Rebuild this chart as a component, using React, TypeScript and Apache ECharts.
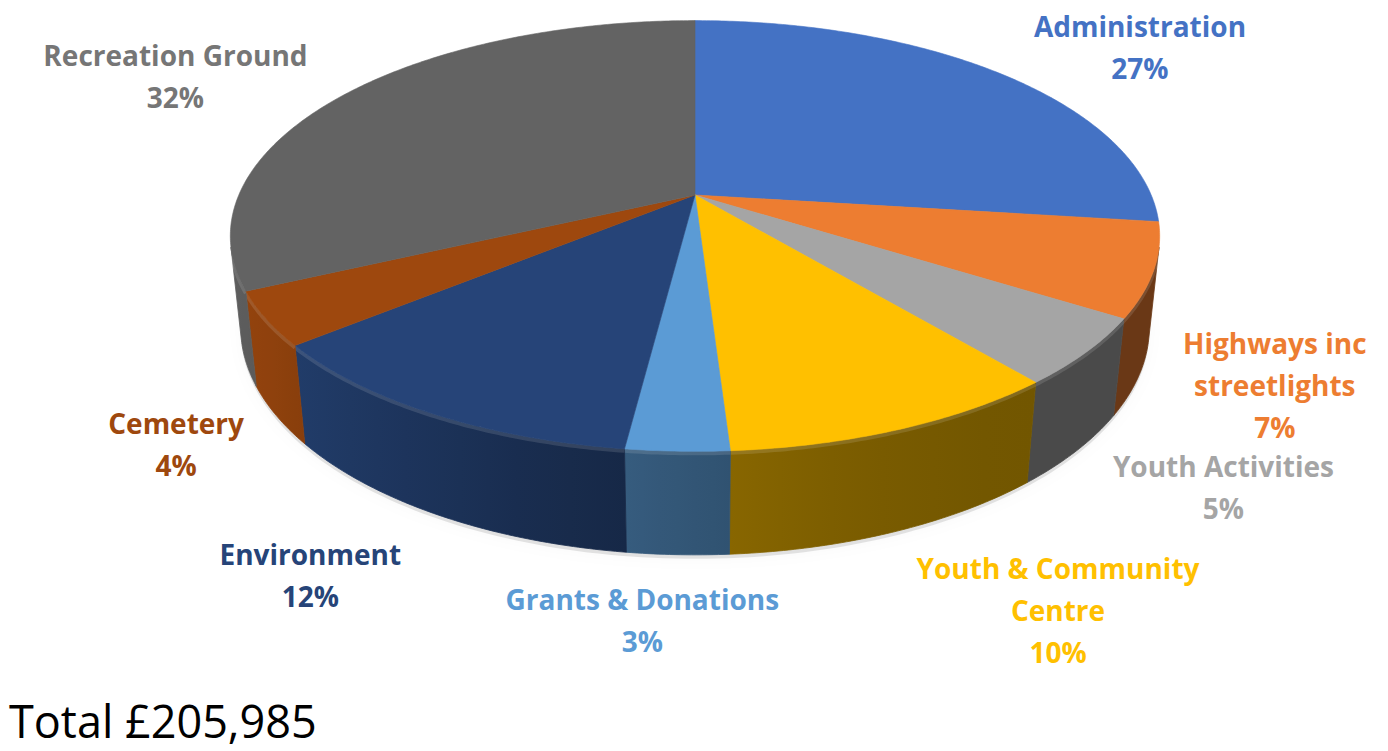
import React, { useEffect, useRef } from 'react';
import * as echarts from 'echarts';

// ---- data ----
const categories = [
  'Administration',
  'Highways inc streetlights',
  'Youth Activities',
  'Youth & Community Centre',
  'Grants & Donations',
  'Environment',
  'Cemetery',
  'Recreation Ground',
];
const labelLines = [
  ['Administration'],
  ['Highways inc', 'streetlights'],
  ['Youth Activities'],
  ['Youth & Community', 'Centre'],
  ['Grants & Donations'],
  ['Environment'],
  ['Cemetery'],
  ['Recreation Ground'],
];
const values = [27, 7, 5, 10, 3, 12, 4, 32];
const totalText = 'Total £205,985';

// ---- style / layout ----
const colors = ['#4472C4', '#ED7D31', '#A5A5A5', '#FFC000', '#5B9BD5', '#264478', '#9E480E', '#636363'];
const labelColors = ['#4472C4', '#ED7D31', '#A5A5A5', '#FFC000', '#5B9BD5', '#264478', '#9E480E', '#767676'];
const labelOffsets = [
  [141, -26], [121, 115], [137, 135], [159, 181], [-35, 169], [-121, 162], [-90, 125], [-170, -18],
];
const CX = 695, CY = 195, F = 2135, DIST = 4.68, S = 0.455, C = 0.89, H = 0.226;

function proj(X: number, Y: number, Z: number): number[] {
  const xc = X;
  const yc = Y * S + Z * C;
  const depth = DIST + Y * C - Z * S;
  return [CX + (F * xc) / depth, CY - (F * yc) / depth];
}
function rim(t: number, Z: number) {
  return proj(Math.sin(t), Math.cos(t), Z);
}
const total = values.reduce((a, b) => a + b, 0);
function angles(i: number) {
  let cum = 0;
  for (let k = 0; k < i; k++) cum += values[k];
  return [(cum / total) * Math.PI * 2, ((cum + values[i]) / total) * Math.PI * 2];
}
function shade(hex: string, b: number) {
  const n = parseInt(hex.slice(1), 16);
  const r = Math.round(((n >> 16) & 255) * b);
  const g = Math.round(((n >> 8) & 255) * b);
  const bl = Math.round((n & 255) * b);
  return `rgb(${r},${g},${bl})`;
}
function light(x: number) {
  const u = (x - CX) / 465;
  return 0.55 - 0.25 * u + 0.15 * u * u;
}

export default function App() {
  const ref = useRef<HTMLDivElement>(null);
  useEffect(() => {
    document.body.style.margin = '0';
    const chart = echarts.init(ref.current!, null, { renderer: 'svg' });
    const vmin = Math.acos(-1 / (DIST * C));
    const vmax = Math.PI * 2 - vmin;

    const renderWall = (params: any) => {
      const i = params.dataIndex;
      const children: any[] = [];
      if (i === 0) {
        const sp: number[][] = [];
        for (let t = 0; t <= Math.PI * 2 + 0.001; t += 0.02) {
          const p = rim(t, -H);
          sp.push([p[0], p[1] + 4]);
        }
        children.push({
          type: 'polygon',
          shape: { points: sp },
          style: { fill: 'rgba(0,0,0,0.10)', shadowBlur: 14, shadowColor: 'rgba(0,0,0,0.25)' },
        });
      }
      const [a0, a1] = angles(i);
      const s0 = Math.max(a0, vmin), s1 = Math.min(a1, vmax);
      if (s1 > s0) {
        const n = Math.max(2, Math.ceil((s1 - s0) / 0.01));
        const top: number[][] = [], bot: number[][] = [];
        for (let k = 0; k <= n; k++) {
          const t = s0 + ((s1 - s0) * k) / n;
          top.push(rim(t, 0));
          bot.push(rim(t, -H));
        }
        const pts = top.concat(bot.reverse());
        const xs = pts.map((p) => p[0]);
        const xmin = Math.min(...xs), xmax = Math.max(...xs);
        const stops: any[] = [];
        for (let k = 0; k <= 6; k++) {
          const x = xmin + ((xmax - xmin) * k) / 6;
          stops.push({ offset: k / 6, color: shade(colors[i], light(x)) });
        }
        const grad = new echarts.graphic.LinearGradient(0, 0, 1, 0, stops);
        children.push({
          type: 'polygon',
          shape: { points: pts },
          style: { fill: grad, stroke: grad, lineWidth: 0.8 },
        });
        children.push({
          type: 'polyline',
          shape: { points: top.map((p) => [p[0], p[1] + 2]) },
          style: { stroke: 'rgba(255,255,255,0.12)', lineWidth: 4, fill: null },
        });
      }
      return { type: 'group', children };
    };

    const renderTop = (params: any) => {
      const i = params.dataIndex;
      const [a0, a1] = angles(i);
      const n = Math.max(2, Math.ceil((a1 - a0) / 0.01));
      const pts: number[][] = [proj(0, 0, 0)];
      for (let k = 0; k <= n; k++) pts.push(rim(a0 + ((a1 - a0) * k) / n, 0));
      const mid = (a0 + a1) / 2;
      const anchor = rim(mid, 0);
      const pct = Math.round((values[i] / total) * 100) + '%';
      return {
        type: 'group',
        children: [
          {
            type: 'polygon',
            shape: { points: pts },
            style: { fill: colors[i], stroke: colors[i], lineWidth: 0.6 },
          },
          {
            type: 'text',
            x: anchor[0] + labelOffsets[i][0],
            y: anchor[1] + labelOffsets[i][1],
            style: {
              text: labelLines[i].concat([pct]).join('\n'),
              fill: labelColors[i],
              fontFamily: 'Open Sans',
              fontWeight: 'bold',
              fontSize: 28,
              lineHeight: 42,
              align: 'center',
              verticalAlign: 'middle',
            },
          },
        ],
      };
    };

    const data = values.map((v, i) => ({ name: categories[i], value: v }));
    chart.setOption({
      animation: false,
      backgroundColor: '#ffffff',
      title: {
        text: totalText,
        left: 9,
        top: 697,
        padding: 0,
        textStyle: { fontFamily: 'Open Sans', fontSize: 45, lineHeight: 46, fontWeight: 'normal', color: '#000000' },
      },
      series: [
        { type: 'custom', coordinateSystem: 'none', z: 1, renderItem: renderWall, data },
        { type: 'custom', coordinateSystem: 'none', z: 2, renderItem: renderTop, data },
      ],
    });
    return () => chart.dispose();
  }, []);
  return <div ref={ref} style={{ width: 1388, height: 751 }} />;
}
